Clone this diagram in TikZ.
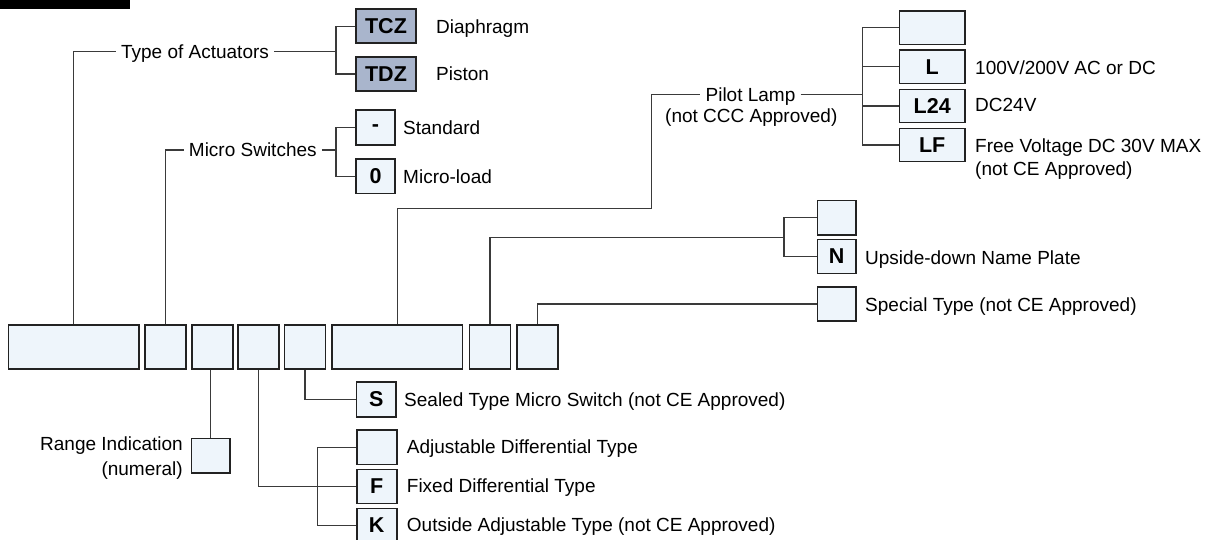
\documentclass[tikz,border=0pt]{standalone}
\usepackage{fontspec}
\setmainfont{Liberation Sans}
\definecolor{boxfill}{HTML}{EEF5FB}
\definecolor{darkfill}{HTML}{A9B5CC}
\definecolor{boxline}{HTML}{222222}
\definecolor{connline}{HTML}{3A3A3A}
\begin{document}
\begin{tikzpicture}[x=1pt,y=-1pt,
  box/.style={draw=boxline,line width=1.6pt,fill=boxfill,inner sep=0pt,
    font=\fontsize{21.5}{24}\selectfont\bfseries},
  dbox/.style={box,fill=darkfill},
  lbl/.style={font=\fontsize{19}{22}\selectfont,inner sep=0pt,text height=13.6pt,text depth=0pt,anchor=west},
  mid/.style={font=\fontsize{19}{22}\selectfont,inner ysep=0pt,inner xsep=5pt,text height=13.6pt,text depth=0pt,anchor=center},
  conn/.style={draw=connline,line width=1.2pt}]
\useasboundingbox (0,0) rectangle (1214,540);
\fill[white] (0,0) rectangle (1214,540);
\fill[black] (0,0) rectangle (130,9.5);

% main row
\node[box,minimum width=130.7pt,minimum height=44pt] (m1) at (73.7,347) {};
\node[box,minimum width=41pt,minimum height=44pt] (m2) at (165.5,347) {};
\node[box,minimum width=41pt,minimum height=44pt] (m3) at (212.2,347) {};
\node[box,minimum width=41pt,minimum height=44pt] (m4) at (258.7,347) {};
\node[box,minimum width=41pt,minimum height=44pt] (m5) at (305,347) {};
\node[box,minimum width=130.8pt,minimum height=44pt] (m6) at (397.1,347) {};
\node[box,minimum width=41pt,minimum height=44pt] (m7) at (490,347) {};
\node[box,minimum width=41pt,minimum height=44pt] (m8) at (537.7,347) {};

% type of actuators
\node[mid] (toa) at (195,51.7) {Type of Actuators};
\node[dbox,minimum width=60pt,minimum height=34pt] (tcz) at (386,26.3) {TCZ};
\node[dbox,minimum width=60pt,minimum height=34pt] (tdz) at (386,74) {TDZ};
\node[lbl] (ltcz) at (436,26.3) {Diaphragm};
\node[lbl] (ltdz) at (436,74) {Piston};
\coordinate (j1) at (336,51.7);
\draw[conn] (m1.north) |- (toa.west);
\draw[conn] (toa.east) -- (j1);
\draw[conn] (tcz.west) -| (j1) |- (tdz.west);

% micro switches
\node[mid] (ms) at (252.8,150) {Micro Switches};
\node[box,minimum width=39pt,minimum height=35pt] (bdash) at (375.5,127.7) {-};
\node[box,minimum width=39pt,minimum height=34pt] (bzero) at (375.5,176.3) {0};
\node[lbl] (lstd) at (403,127.7) {Standard};
\node[lbl] (lml) at (403,176.3) {Micro-load};
\coordinate (j2) at (336,150);
\draw[conn] (m2.north) |- (ms.west);
\draw[conn] (ms.east) -- (j2);
\draw[conn] (bdash.west) -| (j2) |- (bzero.west);

% pilot lamp
\node[mid] (plA) at (750.5,94.3) {Pilot Lamp};
\node[mid] (plB) at (751.3,116) {(not CCC Approved)};
\node[box,minimum width=65.7pt,minimum height=33.3pt] (p0) at (932.2,27.7) {};
\node[box,minimum width=65.7pt,minimum height=33.3pt] (pL) at (932.2,66.7) {L};
\node[box,minimum width=65.7pt,minimum height=33.3pt] (pL24) at (932.2,106) {L24};
\node[box,minimum width=65.7pt,minimum height=33.3pt] (pLF) at (932.2,145) {LF};
\node[lbl] (lpL) at (975,67.7) {100V/200V AC or DC};
\node[lbl] (lpL24) at (975,105) {DC24V};
\node[lbl] (lpLF) at (975,145.7) {Free Voltage DC 30V MAX};
\node[lbl] (lpLF2) at (975,168.3) {(not CE Approved)};
\coordinate (c6) at (651.7,208.3);
\coordinate (j3) at (862.7,94.3);
\draw[conn] (m6.north) |- (c6) |- (plA.west);
\draw[conn] (plA.east) -- (j3);
\draw[conn] (p0.west) -| (j3) |- (pLF.west);
\draw[conn] (pL.west) -- (pL.west -| j3);
\draw[conn] (pL24.west) -- (pL24.west -| j3);

% name plate
\node[box,minimum width=38.4pt,minimum height=34.3pt] (n0) at (836.5,217.8) {};
\node[box,minimum width=38.4pt,minimum height=34pt] (nN) at (836.5,256.3) {N};
\node[lbl] (lnN) at (865,257.7) {Upside-down Name Plate};
\coordinate (j4) at (784,237.3);
\draw[conn] (m7.north) |- (j4);
\draw[conn] (n0.west) -| (j4) |- (nN.west);

% special
\node[box,minimum width=38.4pt,minimum height=34pt] (sp) at (836.5,304) {};
\node[lbl] (lsp) at (865,305) {Special Type (not CE Approved)};
\draw[conn] (m8.north) |- (sp.west);

% sealed
\node[box,minimum width=39.3pt,minimum height=35pt] (sS) at (376.3,399.5) {S};
\node[lbl] (lsS) at (404,400) {Sealed Type Micro Switch (not CE Approved)};
\draw[conn] (m5.south) |- (sS.west);

% range
\node[box,minimum width=38.3pt,minimum height=34.4pt] (rng) at (210.8,455.5) {};
\node[lbl,anchor=east] (lrng1) at (183,444) {Range Indication};
\node[lbl,anchor=east] (lrng2) at (183,468.3) {(numeral)};
\draw[conn] (rng.north) -- (rng.north |- m3.south);

% differential
\node[box,minimum width=40pt,minimum height=34.3pt] (ad) at (376.7,447.2) {};
\node[box,minimum width=40pt,minimum height=34pt] (fF) at (376.7,486.3) {F};
\node[box,minimum width=40pt,minimum height=34pt] (kK) at (376.7,525.3) {K};
\node[lbl] (lad) at (406.7,447) {Adjustable Differential Type};
\node[lbl] (lfF) at (406.7,486) {Fixed Differential Type};
\node[lbl] (lkK) at (406.7,525) {Outside Adjustable Type (not CE Approved)};
\coordinate (j5) at (317.3,486.3);
\draw[conn] (m4.south) |- (fF.west);
\draw[conn] (ad.west) -| (j5) |- (kK.west);
\end{tikzpicture}
\end{document}
